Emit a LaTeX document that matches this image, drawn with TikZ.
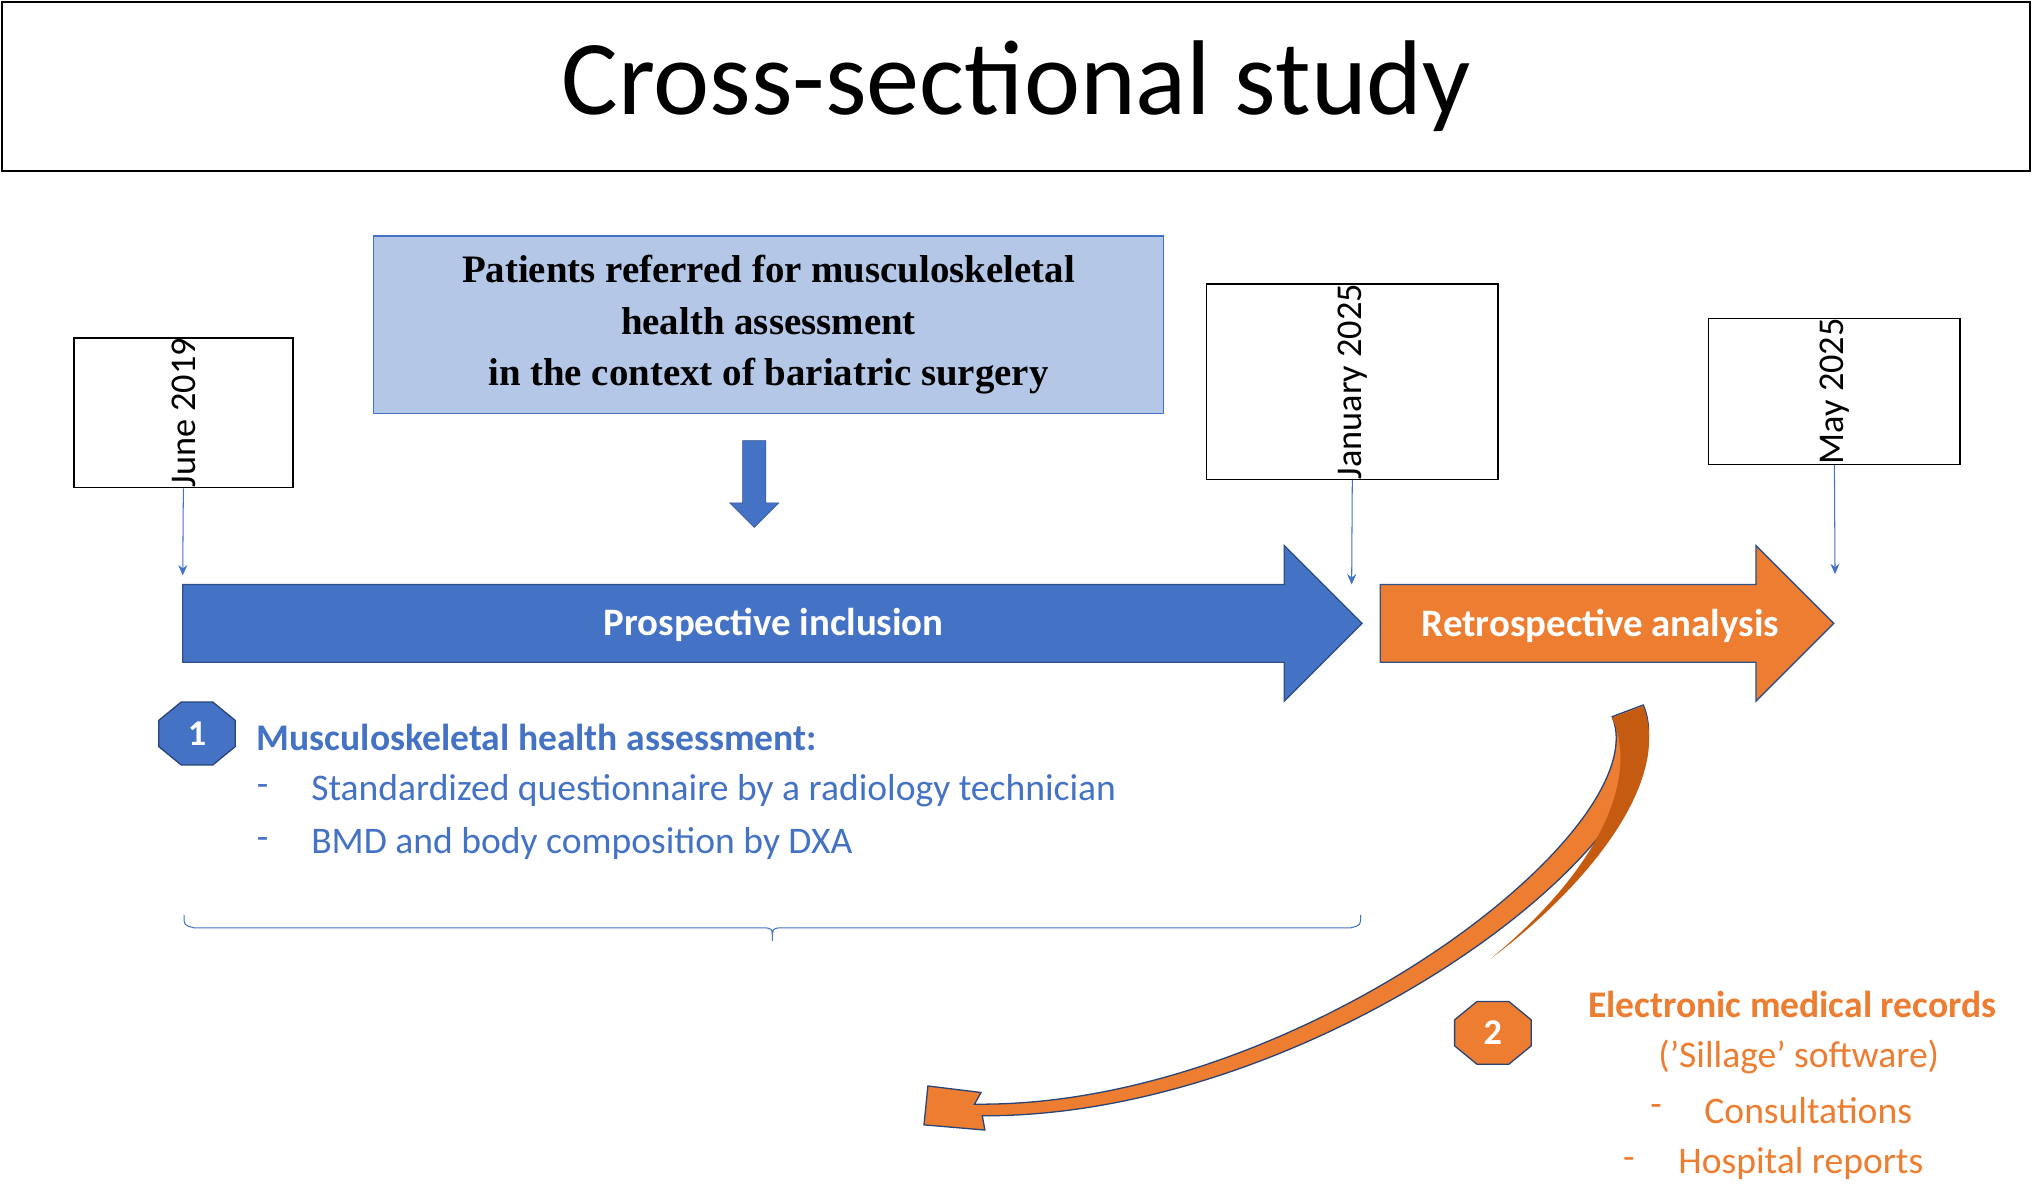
\documentclass[tikz,border=0pt]{standalone}
\usepackage{fontspec}
\setmainfont{Carlito}
\newfontfamily\tnr{Liberation Serif}
\usetikzlibrary{shapes.geometric}
\definecolor{bl}{HTML}{4472C4}
\definecolor{lb}{HTML}{B4C7E7}
\definecolor{og}{HTML}{ED7D31}
\definecolor{dog}{HTML}{C55A11}
\tikzset{
 datebox/.style={draw=black,line width=1.2pt,minimum width=55pt,inner sep=0pt,rotate=90,font=\fontsize{28}{30}\selectfont},
 octa/.style={regular polygon,regular polygon sides=8,draw=bl!60!black,minimum size=64pt,yscale=0.82,inner sep=0pt,line width=1pt},
 smallarr/.style={-{Stealth[length=8pt,width=7pt]},bl,line width=0.8pt},
 bt/.style={text=bl,font=\fontsize{29}{32}\selectfont,anchor=west,inner sep=0pt},
 ot/.style={text=og,font=\fontsize{29}{32}\selectfont,inner sep=0pt}
}
\usetikzlibrary{arrows.meta}
\begin{document}
\begin{tikzpicture}[x=1pt,y=-1pt]
\useasboundingbox (0,0) rectangle (1568,915);
\node[draw,line width=1.5pt,minimum width=1565pt,minimum height=130pt,anchor=north west,inner sep=0pt,font=\fontsize{82}{90}\selectfont] (title) at (1,1) {Cross-sectional study};
\node[draw=bl,fill=lb,line width=1pt,minimum width=610pt,minimum height=137pt,align=center,font=\tnr\bfseries\fontsize{30}{40}\selectfont,inner sep=0pt] (pat) at (593,250.5) {Patients referred for musculoskeletal\\health assessment\\in the context of bariatric surgery};
\draw[fill=bl,draw=bl!70!black] (573,340) -- (591,340) -- (591,388) -- (601,388) -- (582,407) -- (563,388) -- (573,388) -- cycle;
\node[datebox,minimum height=169pt] (d1) at (141.5,318.5) {June 2019};
\node[datebox,minimum height=225pt] (d2) at (1043.5,294.5) {January 2025};
\node[datebox,minimum height=194pt] (d3) at (1415.5,302) {May 2025};
\coordinate (a1) at (141,444); \coordinate (a2) at (1043,451); \coordinate (a3) at (1416,443);
\draw[smallarr] (d1.west) -- (a1);
\draw[smallarr] (d2.west) -- (a2);
\draw[smallarr] (d3.west) -- (a3);
\draw[fill=bl,draw=bl!70!black,line width=1pt] (141,451) -- (991,451) -- (991,421) -- (1051,481) -- (991,541) -- (991,511) -- (141,511) -- cycle;
\node[text=white,font=\bfseries\fontsize{30}{32}\selectfont] (pi) at (597,482) {Prospective inclusion};
\draw[fill=og,draw=bl!70!black,line width=1pt] (1065,451) -- (1355,451) -- (1355,421) -- (1415,481) -- (1355,541) -- (1355,511) -- (1065,511) -- cycle;
\node[text=white,font=\bfseries\fontsize{30}{32}\selectfont] (ra) at (1235,483) {Retrospective analysis};
\node[octa,fill=bl] (o1) at (152,566) {};
\node[text=white,font=\bfseries\fontsize{28}{30}\selectfont] at (o1) {1};
\node[bt,font=\bfseries\fontsize{29}{32}\selectfont] (h1) at (198,569) {Musculoskeletal health assessment:};
\node[bt] at (198,610) {-};
\node[bt] at (240,610) {Standardized questionnaire by a radiology technician};
\node[bt] at (198,651) {-};
\node[bt] at (240,651) {BMD and body composition by DXA};
\draw[bl,line width=0.8pt] (142,706) .. controls (142,714) .. (150,716) -- (588,716) .. controls (596,716) .. (596,726) .. controls (596,716) .. (604,716) -- (1042,716) .. controls (1050,714) .. (1050,706);
\draw[fill=og,draw=bl!60!black,line width=1pt] (1268,544) .. controls (1310,640) and (1020,862) .. (758,861) -- (760,872) -- (713,868) -- (716,838) -- (757,843) -- (752,852) .. controls (1000,855) and (1280,640) .. (1244,553) -- cycle;
\draw[fill=dog,draw=none] (1268,545) .. controls (1290,600) and (1230,680) .. (1150,740) .. controls (1235,670) and (1265,600) .. (1244,554) -- cycle;
\node[octa,fill=og] (o2) at (1152,797) {};
\node[text=white,font=\bfseries\fontsize{28}{30}\selectfont] at (o2) {2};
\node[ot,font=\bfseries\fontsize{29}{32}\selectfont] (h2) at (1383,775) {Electronic medical records};
\node[ot] at (1388,816) {('Sillage' software)};
\node[ot] at (1278,857) {-};
\node[ot,anchor=west] at (1315,857) {Consultations};
\node[ot] at (1257,898) {-};
\node[ot,anchor=west] at (1295,898) {Hospital reports};
\end{tikzpicture}
\end{document}
